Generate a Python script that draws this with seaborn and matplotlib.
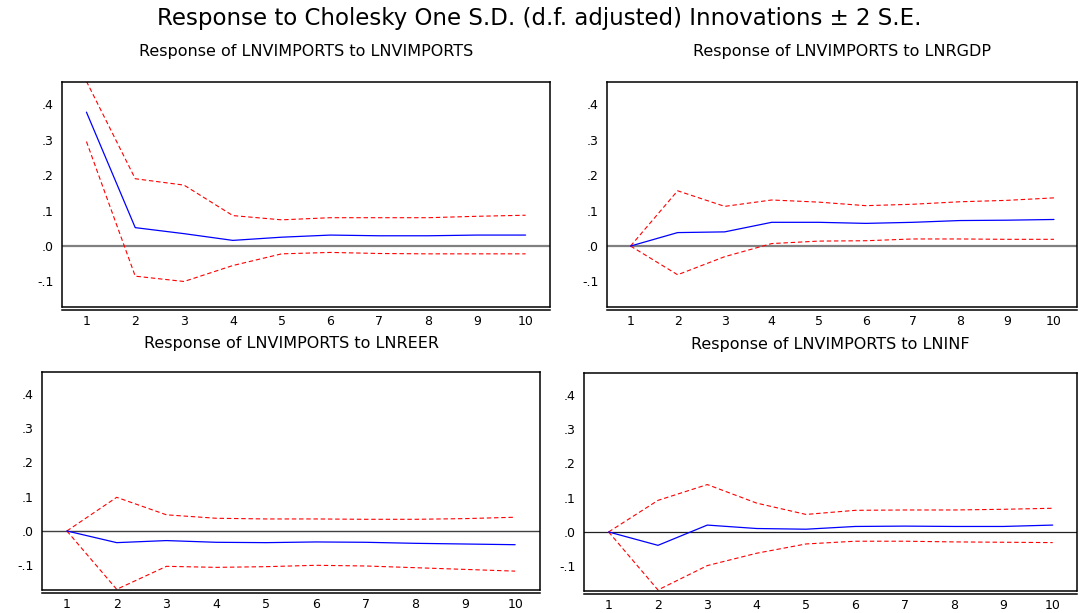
"""EViews-style impulse response grid: LNVIMPORTS responses to Cholesky shocks."""

import matplotlib

matplotlib.use("Agg")
import matplotlib.pyplot as plt
import seaborn as sns
from matplotlib.ticker import FixedLocator, FuncFormatter, NullFormatter

PERIODS = [1, 2, 3, 4, 5, 6, 7, 8, 9, 10]

TITLES = [
    "Response of LNVIMPORTS to LNVIMPORTS",
    "Response of LNVIMPORTS to LNRGDP",
    "Response of LNVIMPORTS to LNREER",
    "Response of LNVIMPORTS to LNINF",
]

# impulse responses (blue) and +/- 2 S.E. bands (red dashed)
resp_imports = [0.378, 0.052, 0.035, 0.016, 0.025, 0.031, 0.029, 0.029, 0.031, 0.031]
upper_imports = [0.465, 0.190, 0.172, 0.086, 0.074, 0.080, 0.080, 0.080, 0.084, 0.087]
lower_imports = [0.295, -0.085, -0.100, -0.055, -0.022, -0.018, -0.021, -0.022, -0.022, -0.022]

resp_rgdp = [0.0, 0.038, 0.040, 0.067, 0.067, 0.064, 0.067, 0.072, 0.073, 0.075]
upper_rgdp = [0.0, 0.156, 0.112, 0.130, 0.124, 0.114, 0.118, 0.125, 0.129, 0.136]
lower_rgdp = [0.0, -0.081, -0.030, 0.007, 0.014, 0.015, 0.020, 0.020, 0.019, 0.019]

resp_reer = [0.0, -0.034, -0.028, -0.033, -0.034, -0.032, -0.033, -0.036, -0.038, -0.040]
upper_reer = [0.0, 0.098, 0.047, 0.037, 0.035, 0.035, 0.034, 0.034, 0.036, 0.040]
lower_reer = [0.0, -0.170, -0.103, -0.106, -0.104, -0.100, -0.102, -0.107, -0.112, -0.117]

resp_inf = [0.0, -0.039, 0.020, 0.010, 0.008, 0.016, 0.017, 0.016, 0.016, 0.020]
upper_inf = [0.0, 0.092, 0.138, 0.084, 0.051, 0.063, 0.064, 0.064, 0.066, 0.069]
lower_inf = [0.0, -0.169, -0.098, -0.062, -0.035, -0.027, -0.027, -0.029, -0.030, -0.031]

Y_TICKS = [-0.1, 0.0, 0.1, 0.2, 0.3, 0.4]
Y_LIM = (-0.172, 0.463)

BLUE = "#0000ff"
RED = "#ff0000"

# axes rectangles in figure fractions (left, bottom, width, height)
AX_RECTS = [
    (0.0575, 0.4992, 0.4522, 0.3670),
    (0.5626, 0.4992, 0.4360, 0.3670),
    (0.0389, 0.0375, 0.4616, 0.3556),
    (0.5412, 0.0359, 0.4573, 0.3556),
]
TITLE_PADS = [19, 19, 17, 17]
ZERO_STYLE = [("#808080", 1.6), ("#808080", 1.6), ("#404040", 1.0), ("#202020", 0.9)]


def _eviews_fmt(v, _pos):
    """Format 0.4 as '.4' and -0.1 as '-.1' like EViews does."""
    s = f"{v:.1f}"
    return s.replace("0.", ".", 1)


def _draw_panel(ax, resp, upper, lower, title, pad, zero_style):
    zcolor, zwidth = zero_style
    ax.axhline(0, color=zcolor, linewidth=zwidth, zorder=1)
    sns.lineplot(x=PERIODS, y=upper, ax=ax, color=RED, linewidth=0.8,
                 linestyle=(0, (4, 2.5)), zorder=2)
    sns.lineplot(x=PERIODS, y=lower, ax=ax, color=RED, linewidth=0.8,
                 linestyle=(0, (4, 2.5)), zorder=2)
    sns.lineplot(x=PERIODS, y=resp, ax=ax, color=BLUE, linewidth=0.9, zorder=3)

    ax.set_xlim(0.5, 10.5)
    ax.set_ylim(*Y_LIM)

    # boundary ticks between periods, labels centred on the periods
    ax.xaxis.set_major_locator(FixedLocator([p - 0.5 for p in PERIODS] + [10.5]))
    ax.xaxis.set_major_formatter(NullFormatter())
    ax.xaxis.set_minor_locator(FixedLocator(PERIODS))
    ax.xaxis.set_minor_formatter(FuncFormatter(lambda v, _p: f"{int(v)}"))
    ax.tick_params(axis="x", which="major", direction="out", length=4, width=0.9,
                   color="black")
    ax.tick_params(axis="x", which="minor", length=0, pad=4, labelsize=9,
                   labelcolor="black")

    ax.yaxis.set_major_locator(FixedLocator(Y_TICKS))
    ax.yaxis.set_major_formatter(FuncFormatter(_eviews_fmt))
    ax.tick_params(axis="y", direction="out", length=3, width=0.9, pad=3,
                   labelsize=9, color="black", labelcolor="black")

    for side in ["left", "right", "top", "bottom"]:
        ax.spines[side].set_color("black")
        ax.spines[side].set_linewidth(1.1)
        ax.spines[side].set_visible(True)
    # x axis sits just below the bottom of the frame
    ax.spines["bottom"].set_position(("outward", 2))
    ax.plot([0, 1], [0, 0], transform=ax.transAxes, color="black",
            linewidth=1.1, clip_on=False)

    ax.set_xlabel("")
    ax.set_ylabel("")
    ax.set_title(title, fontsize=11.5, pad=pad, color="black")


def main():
    sns.set_theme(style="white")
    plt.rcParams["font.family"] = ["DejaVu Sans"]
    plt.rcParams["text.color"] = "black"

    fig = plt.figure(figsize=(10.79, 6.13), dpi=100)
    panels = [
        (resp_imports, upper_imports, lower_imports),
        (resp_rgdp, upper_rgdp, lower_rgdp),
        (resp_reer, upper_reer, lower_reer),
        (resp_inf, upper_inf, lower_inf),
    ]
    for rect, (resp, up, lo), title, pad, zs in zip(AX_RECTS, panels, TITLES,
                                                     TITLE_PADS, ZERO_STYLE):
        ax = fig.add_axes(rect)
        _draw_panel(ax, resp, up, lo, title, pad, zs)

    fig.suptitle("Response to Cholesky One S.D. (d.f. adjusted) Innovations \u00b1 2 S.E.",
                 fontsize=16.5, y=1 - 18 / 613, va="center", color="black")

    fig.savefig("out.png", dpi=100)
    plt.close(fig)


if __name__ == "__main__":
    main()
